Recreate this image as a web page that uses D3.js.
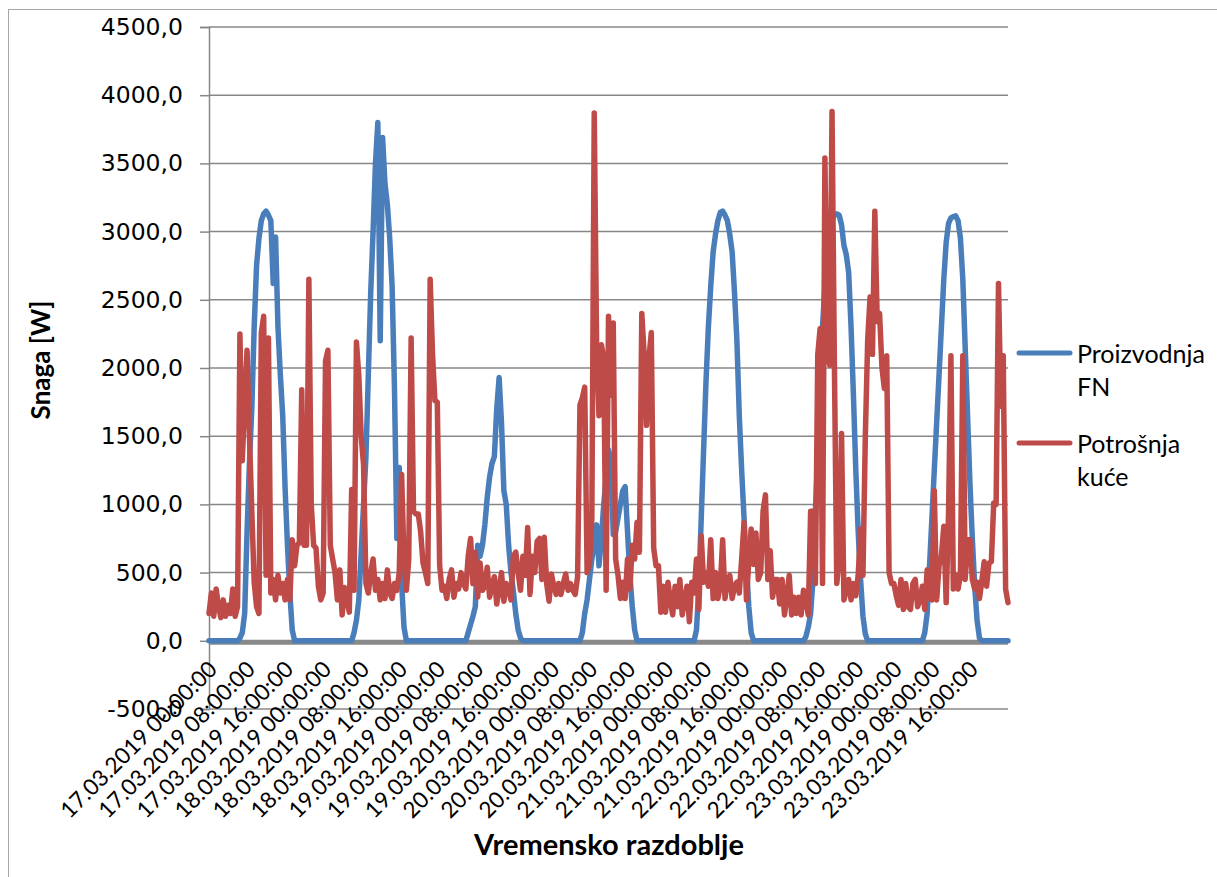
<!DOCTYPE html>
<html>
<head>
<meta charset="utf-8">
<script src="https://cdnjs.cloudflare.com/ajax/libs/d3/7.8.5/d3.min.js"></script>
<style>
  body { margin: 0; background: #fff; }
  svg { display: block; }
</style>
</head>
<body>
<svg id="chart"></svg>
<script>
// half-hour readings, one array per day (W)
var pv17 = [0,0,0,0,0,0,0,0,0,0,0,0, 0,20,60,200,800,1300,1700,2300,2750,2950,3080,3130,3150,3120,3080,2620,2960,2300,1950,1650,1120,700,350,80, 0,0,0,0,0,0,0,0,0,0,0,0];
var pv18 = [0,0,0,0,0,0,0,0,0,0,0,0, 0,60,150,300,650,1000,1350,1950,2550,3000,3500,3800,2200,3690,3350,3200,2950,2600,1850,750,1270,420,100,0, 0,0,0,0,0,0,0,0,0,0,0,0];
var pv19 = [0,0,0,0,0,0,0,0,0,0,0,0, 0,60,120,180,250,700,620,700,850,1050,1200,1300,1350,1700,1930,1600,1100,1000,700,500,360,200,80,20, 0,0,0,0,0,0,0,0,0,0,0,0];
var pv20 = [0,0,0,0,0,0,0,0,0,0,0,0, 0,60,200,300,450,600,700,850,550,750,1000,1200,1400,1330,780,800,900,1000,1100,1130,800,480,250,80, 0,0,0,0,0,0,0,0,0,0,0,0];
var pv21 = [0,0,0,0,0,0,0,0,0,0,0,0, 0,80,400,900,1400,1900,2300,2600,2850,2980,3080,3140,3150,3120,3080,2980,2850,2550,2200,1650,1250,900,550,250, 60,0,0,0,0,0,0,0,0,0,0,0];
var pv22 = [0,0,0,0,0,0,0,0,0,0,0,30, 100,200,450,950,1350,1900,2300,2600,2850,3000,3080,3120,3130,3120,3050,2900,2830,2700,2300,1800,1250,800,450,180,50,0, 0,0,0,0,0,0,0,0,0,0];
var pv23 = [0,0,0,0,0,0,0,0,0,0,0,0, 0,60,200,550,900,1250,1600,1950,2300,2650,2920,3060,3100,3110,3115,3080,2950,2650,2150,1650,1150,750,400,150,20, 0,0,0,0,0,0,0,0,0,0,0,0];

var load17 = [200,350,180,380,250,170,300,180,260,200,380,180, 250,2250,1320,1750,2130,1500,950,430,250,200,2260,2380, 480,2220,350,450,300,480,350,420,300,450,300,740, 550,700,720,1840,700,700,2650,1000,700,680,400,300];
var load18 = [350,2050,2130,700,600,500,300,520,190,390,300,210, 1110,370,2190,1940,1500,1290,420,350,500,600,370,450, 300,420,310,520,350,310,420,370,500,1220,600,370, 600,2220,950,930,930,800,570,500,420,2650,2100,1760];
var load19 = [1750,550,370,400,310,450,520,320,420,380,500,420, 380,620,750,420,650,320,570,370,400,540,320,400, 470,270,380,500,290,420,380,300,620,650,500,370, 620,480,830,340,620,500,730,750,450,760,420,290];
var load20 = [490,400,340,420,340,420,490,370,420,370,340,470, 1730,1780,1860,500,570,900,3870,2170,1650,2170,2070,370, 2380,1800,2330,600,480,310,430,310,600,380,700,600, 870,650,2400,2100,1580,2070,2260,680,550,550,210,400];
var load21 = [210,430,300,190,400,250,450,190,300,400,140,430, 350,600,230,770,430,500,400,740,310,500,310,400, 740,310,450,480,310,400,430,350,600,870,300,580, 820,560,790,450,500,950,1070,450,660,320,450,450];
var load22 = [270,450,190,320,480,190,320,200,320,190,370,300, 190,950,950,420,2100,2290,420,3540,2100,2020,3880,2020, 420,600,1520,300,370,450,300,420,330,480,820,480, 1500,2210,2520,2100,3150,2340,2400,2000,1850,2090,500,420];
var load23 = [420,330,260,450,230,420,250,230,420,450,250,300, 400,230,520,310,300,1100,300,550,620,840,280,940, 2090,380,480,380,480,2090,450,740,740,450,380,430, 310,440,580,400,570,580,1010,1000,2620,1720,2090,380, 280];

var seriesNames = [["Proizvodnja", "FN"], ["Potrošnja", "kuće"]];
var seriesColors = ["#4a7ebb", "#be4b48"];
var yTicks = [-500, 0, 500, 1000, 1500, 2000, 2500, 3000, 3500, 4000, 4500];

var svg = d3.select("#chart")
    .attr("width", 1217)
    .attr("height", 877);

var start = new Date(2019, 2, 17, 0, 0, 0);
var end = new Date(2019, 2, 24, 0, 0, 0);

var x = d3.scaleTime().domain([start, end]).range([209, 1008]);
var y = d3.scaleLinear().domain([-500, 4500]).range([709, 27]);

var locale = d3.formatLocale({decimal: ",", thousands: "", grouping: [3], currency: ["", ""], minus: "-"});
var fmtY = locale.format(".1f");
var fmtX = d3.timeFormat("%d.%m.%Y %H:%M:%S");

function toPoints(days){
    return d3.merge(days).map(function(v, i){
        return {t: d3.timeMinute.offset(start, 30 * i), v: v};
    });
}

var series = [
    toPoints([pv17, pv18, pv19, pv20, pv21, pv22, pv23]),
    toPoints([load17, load18, load19, load20, load21, load22, load23])
];

// chart frame
svg.append("rect")
    .attr("x", 8.5).attr("y", 9.5)
    .attr("width", 1300).attr("height", 1000)
    .attr("fill", "none")
    .attr("stroke", "#a6a6a6")
    .attr("stroke-width", 1);

// gridlines
svg.append("g").selectAll("line")
    .data(yTicks.filter(function(d){ return d !== 0; }))
    .enter().append("line")
    .attr("x1", 209).attr("x2", 1008)
    .attr("y1", function(d){ return y(d); })
    .attr("y2", function(d){ return y(d); })
    .attr("stroke", "#878787")
    .attr("stroke-width", 1.5);

// y axis
var yAxis = svg.append("g")
    .attr("transform", "translate(209,0)")
    .call(d3.axisLeft(y).tickValues(yTicks).tickFormat(fmtY).tickSize(9).tickPadding(17));
yAxis.select(".domain").attr("stroke", "#878787").attr("stroke-width", 1.5);
yAxis.selectAll(".tick line").attr("stroke", "#878787").attr("stroke-width", 1.5);
yAxis.selectAll(".tick text")
    .attr("font-family", "DejaVu Sans, Verdana, sans-serif")
    .attr("font-size", 23.5)
    .attr("fill", "#000");

// category axis sits on zero
svg.append("line")
    .attr("x1", 209).attr("x2", 1008)
    .attr("y1", y(0) + 1.5).attr("y2", y(0) + 1.5)
    .attr("stroke", "#898989")
    .attr("stroke-width", 5);

var xAxis = svg.append("g")
    .attr("transform", "translate(0," + y(0) + ")")
    .call(d3.axisBottom(x).tickValues(d3.timeHour.every(8).range(start, end)).tickFormat(fmtX).tickSize(0));
xAxis.select(".domain").remove();
xAxis.selectAll(".tick text")
    .attr("font-family", "Lato, 'Noto Sans', sans-serif")
    .attr("font-size", 22.5)
    .attr("fill", "#000")
    .attr("text-anchor", "end")
    .attr("dy", null)
    .attr("y", 0)
    .attr("dominant-baseline", "middle")
    .attr("transform", "translate(5,26) rotate(-45)");

// series
var line = d3.line()
    .x(function(d){ return x(d.t); })
    .y(function(d){ return y(d.v); });

svg.append("g").selectAll("path")
    .data(series)
    .enter().append("path")
    .attr("d", line)
    .attr("fill", "none")
    .attr("stroke", function(d, i){ return seriesColors[i]; })
    .attr("stroke-width", 5.5)
    .attr("stroke-linejoin", "round")
    .attr("stroke-linecap", "round");

// axis titles
svg.append("text")
    .attr("x", 609).attr("y", 855)
    .attr("text-anchor", "middle")
    .attr("font-family", "Lato, 'Noto Sans', sans-serif")
    .attr("font-weight", "bold")
    .attr("font-size", 29)
    .text("Vremensko razdoblje");

svg.append("text")
    .attr("transform", "translate(50,360) rotate(-90)")
    .attr("text-anchor", "middle")
    .attr("font-family", "Lato, 'Noto Sans', sans-serif")
    .attr("font-weight", "bold")
    .attr("font-size", 26)
    .text("Snaga [W]");

// legend
var legend = svg.append("g").selectAll("g")
    .data(seriesNames)
    .enter().append("g")
    .attr("transform", function(d, i){ return "translate(0," + (353 + i * 90) + ")"; });

legend.append("line")
    .attr("x1", 1019).attr("x2", 1070)
    .attr("stroke", function(d, i){ return seriesColors[i]; })
    .attr("stroke-width", 5)
    .attr("stroke-linecap", "round");

legend.append("text")
    .attr("font-family", "Lato, 'Noto Sans', sans-serif")
    .attr("font-size", 25)
    .attr("fill", "#000")
    .selectAll("tspan")
    .data(function(d){ return d; })
    .enter().append("tspan")
    .attr("x", 1077)
    .attr("y", function(d, i){ return 10 + i * 33; })
    .text(function(d){ return d; });
</script>
</body>
</html>
